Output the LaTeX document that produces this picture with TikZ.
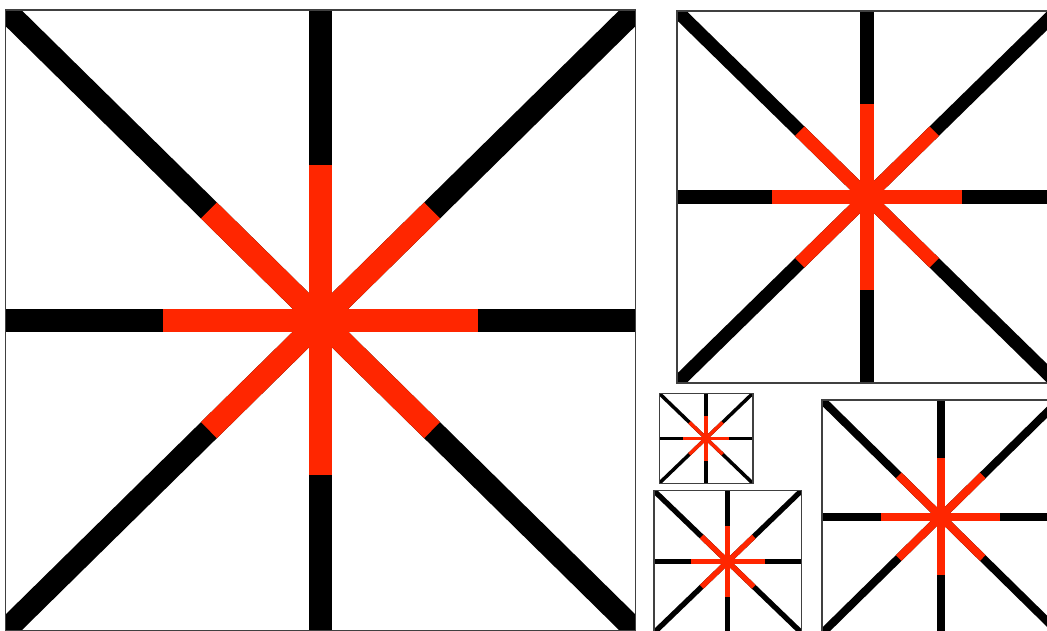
\documentclass[tikz,border=0pt]{standalone}
\usetikzlibrary{calc}
\usepackage{xcolor}
\definecolor{SpokeRed}{HTML}{FF2600}
\definecolor{FrameGray}{HTML}{404040}

\tikzset{
	spoke/.style = {line cap = butt},
	frame/.style = {draw = FrameGray, line width = 1.4*0.02cm}
}

\begin{document}
\begin{tikzpicture}[x = 0.02cm, y = -0.02cm]
	\useasboundingbox (0, 0) rectangle (1047, 631);
	\clip (0, 0) rectangle (1047, 631);
	% big square
	\begin{scope}[shift = {(320.5, 320.3)}]
		\def\hx{315.2}
		\def\hy{310.3}
		\def\lw{22.6}
		\begin{scope}
			\clip (-\hx, -\hy) rectangle (\hx, \hy);
			\foreach \dx/\dy in {1/0, 1/1, 0/1, -1/1, -1/0, -1/-1, 0/-1, 1/-1} {
					\draw[spoke, line width = \lw*0.02cm] (0, 0) -- (\dx*\hx, \dy*\hy);
				}
			\foreach \dx/\dy/\f in {1/0/0.5, 1/1/0.354, 0/1/0.5, -1/1/0.354, -1/0/0.5, -1/-1/0.354, 0/-1/0.5, 1/-1/0.354} {
					\draw[spoke, SpokeRed, line width = \lw*0.02cm] (0, 0) -- (\dx*\hx*\f, \dy*\hy*\f);
				}
		\end{scope}
		\draw[frame] (-\hx, -\hy) rectangle (\hx, \hy);
	\end{scope}
	% top right square
	\begin{scope}[shift = {(867, 197)}]
		\def\hx{190}
		\def\hy{186}
		\def\lw{13.3}
		\begin{scope}
			\clip (-\hx, -\hy) rectangle (\hx, \hy);
			\foreach \dx/\dy in {1/0, 1/1, 0/1, -1/1, -1/0, -1/-1, 0/-1, 1/-1} {
					\draw[spoke, line width = \lw*0.02cm] (0, 0) -- (\dx*\hx, \dy*\hy);
				}
			\foreach \dx/\dy/\f in {1/0/0.5, 1/1/0.354, 0/1/0.5, -1/1/0.354, -1/0/0.5, -1/-1/0.354, 0/-1/0.5, 1/-1/0.354} {
					\draw[spoke, SpokeRed, line width = \lw*0.02cm] (0, 0) -- (\dx*\hx*\f, \dy*\hy*\f);
				}
		\end{scope}
		\draw[frame] (-\hx, -\hy) rectangle (\hx, \hy);
	\end{scope}
	% lower right square
	\begin{scope}[shift = {(940.7, 516.7)}]
		\def\hx{118.7}
		\def\hy{116.7}
		\def\lw{8}
		\begin{scope}
			\clip (-\hx, -\hy) rectangle (\hx, \hy);
			\foreach \dx/\dy in {1/0, 1/1, 0/1, -1/1, -1/0, -1/-1, 0/-1, 1/-1} {
					\draw[spoke, line width = \lw*0.02cm] (0, 0) -- (\dx*\hx, \dy*\hy);
				}
			\foreach \dx/\dy/\f in {1/0/0.5, 1/1/0.354, 0/1/0.5, -1/1/0.354, -1/0/0.5, -1/-1/0.354, 0/-1/0.5, 1/-1/0.354} {
					\draw[spoke, SpokeRed, line width = \lw*0.02cm] (0, 0) -- (\dx*\hx*\f, \dy*\hy*\f);
				}
		\end{scope}
		\draw[frame] (-\hx, -\hy) rectangle (\hx, \hy);
	\end{scope}
	% lower middle square
	\begin{scope}[shift = {(727.7, 561.7)}]
		\def\hx{73.7}
		\def\hy{71}
		\def\lw{5.3}
		\begin{scope}
			\clip (-\hx, -\hy) rectangle (\hx, \hy);
			\foreach \dx/\dy in {1/0, 1/1, 0/1, -1/1, -1/0, -1/-1, 0/-1, 1/-1} {
					\draw[spoke, line width = \lw*0.02cm] (0, 0) -- (\dx*\hx, \dy*\hy);
				}
			\foreach \dx/\dy/\f in {1/0/0.5, 1/1/0.354, 0/1/0.5, -1/1/0.354, -1/0/0.5, -1/-1/0.354, 0/-1/0.5, 1/-1/0.354} {
					\draw[spoke, SpokeRed, line width = \lw*0.02cm] (0, 0) -- (\dx*\hx*\f, \dy*\hy*\f);
				}
		\end{scope}
		\draw[frame] (-\hx, -\hy) rectangle (\hx, \hy);
	\end{scope}
	% small square
	\begin{scope}[shift = {(706, 438.3)}]
		\def\hx{46.8}
		\def\hy{45}
		\def\lw{3.5}
		\begin{scope}
			\clip (-\hx, -\hy) rectangle (\hx, \hy);
			\foreach \dx/\dy in {1/0, 1/1, 0/1, -1/1, -1/0, -1/-1, 0/-1, 1/-1} {
					\draw[spoke, line width = \lw*0.02cm] (0, 0) -- (\dx*\hx, \dy*\hy);
				}
			\foreach \dx/\dy/\f in {1/0/0.5, 1/1/0.354, 0/1/0.5, -1/1/0.354, -1/0/0.5, -1/-1/0.354, 0/-1/0.5, 1/-1/0.354} {
					\draw[spoke, SpokeRed, line width = \lw*0.02cm] (0, 0) -- (\dx*\hx*\f, \dy*\hy*\f);
				}
		\end{scope}
		\draw[frame] (-\hx, -\hy) rectangle (\hx, \hy);
	\end{scope}
\end{tikzpicture}
\end{document}
